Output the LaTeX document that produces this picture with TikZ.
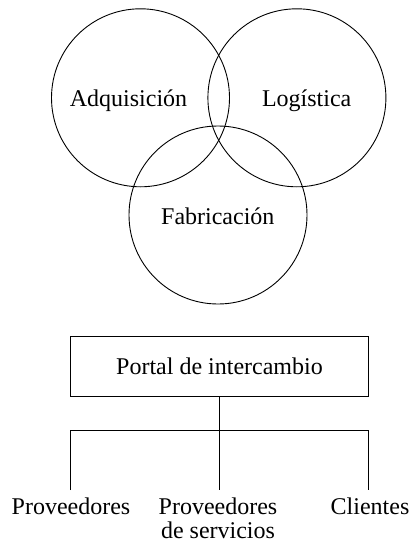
\documentclass[tikz,border=0pt]{standalone}
\usepackage{fontspec}
\setmainfont{Liberation Serif}
\begin{document}
\begin{tikzpicture}[x=1pt,y=-1pt,
  line width=0.9pt,
  ring/.style={draw, circle, minimum size=178pt, inner sep=0pt},
  lbl/.style={font=\fontsize{24}{25}\selectfont, inner sep=0pt, anchor=base},
  boxnode/.style={draw, minimum width=297.6pt, minimum height=60pt, inner sep=0pt,
    font=\fontsize{24}{25}\selectfont, text height=16.5pt, text depth=0pt}
]
\useasboundingbox (0,0) rectangle (410,543);
% circles
\node[ring] (ca) at (140.5,97.8) {};
\node[ring] (cl) at (296.9,97.8) {};
\node[ring] (cf) at (218,215) {};
\node[lbl] (ta) at (128.5,106.5) {Adquisición};
\node[lbl] (tl) at (306.7,106.5) {Logística};
\node[lbl] (tf) at (217.8,224) {Fabricación};
% portal
\node[boxnode] (portal) at (219.5,366.7) {Portal de intercambio};
\coordinate (h1) at (70.7,430.7);
\coordinate (h2) at (portal.south |- h1);
\coordinate (h3) at (368.3,430.7);
\coordinate (e1) at (70.7,490);
\coordinate (e2) at (portal.south |- e1);
\coordinate (e3) at (368.3,490);
\draw (portal.south) -- (e2);
\draw (e1) -- (h1) -- (h3) -- (e3);
% labels
\node[lbl] (prov) at (71,514.5) {Proveedores};
\node[lbl] (serv) at (218,514.5) {Proveedores};
\node[lbl] (serv2) at (218,538.5) {de servicios};
\node[lbl] (cli) at (370,514.5) {Clientes};
\end{tikzpicture}
\end{document}
